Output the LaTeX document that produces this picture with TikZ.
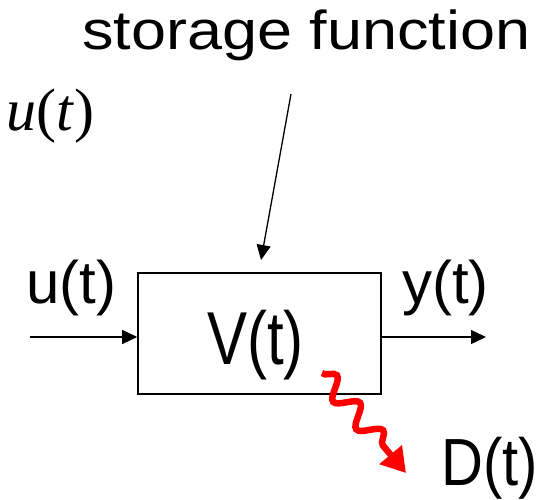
\documentclass[tikz,border=0pt]{standalone}
\usepackage{fontspec}
\setmainfont{Liberation Sans}
\newfontfamily\timesfont{Liberation Serif}
\usepackage{tikz}
\usetikzlibrary{arrows.meta,decorations.pathmorphing}

\begin{document}
\begin{tikzpicture}[x=1pt,y=-1pt,
  lbl/.style={anchor=base west,inner sep=0pt,font=\fontsize{60}{60}\selectfont},
  box/.style={draw,line width=1.6pt,minimum width=243pt,minimum height=121pt,inner sep=0pt},
  arr/.style={-{Triangle[length=15pt,width=14pt]},line width=1.3pt},
  wavy/.style={red,line width=6.5pt,decorate,
               decoration={snake,amplitude=10pt,segment length=36pt,post length=26pt},
               -{Triangle[length=24pt,width=28pt]}}
]
\useasboundingbox (0,0) rectangle (547,499);
\node[box] (sys) at (259.5,333.5) {};
\node[lbl,yscale=1.25] (vlab) at (207,364) {V(t)};
\node[lbl] (ulab) at (26,303) {u(t)};
\node[lbl] (ylab) at (402,303) {y(t)};
\node[lbl,yscale=1.15,font=\fontsize{58}{58}\selectfont] (dlab) at (441,485) {D(t)};
\node[lbl,yscale=0.87,font=\fontsize{63}{63}\selectfont] (stlab) at (82,49) {storage function};
\node[lbl,font=\fontsize{60}{60}\timesfont] (umath) at (6,130) {\itshape u\/\upshape(\itshape t\/\upshape)};
% connectors
\coordinate (uin) at (30,337);
\coordinate (yout) at (486,337);
\coordinate (sttop) at (291,94);
\coordinate (stbot) at (261,260);
\coordinate (wstart) at (322,373);
\coordinate (wend) at (406,473);
\draw[arr] (uin) -- (uin -| sys.west);
\draw[arr] (yout -| sys.east) -- (yout);
\draw[arr] (sttop) -- (stbot);
\draw[wavy] (wstart) -- (wend);
\end{tikzpicture}
\end{document}
